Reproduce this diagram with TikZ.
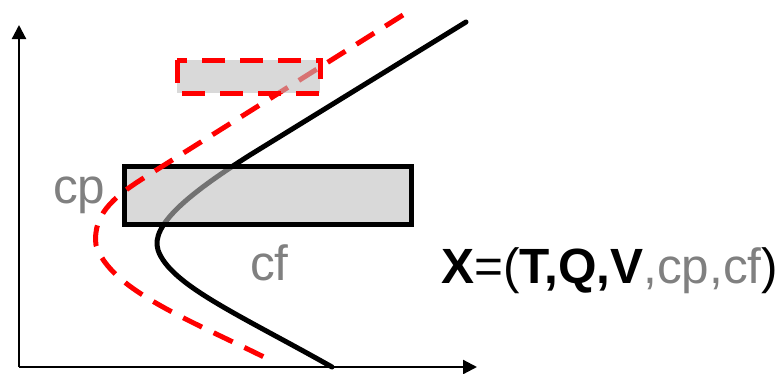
\documentclass[tikz,border=0pt]{standalone}
\usepackage{fontspec}
\setmainfont{Liberation Sans}
\usetikzlibrary{arrows.meta}
\definecolor{lbl}{HTML}{808080}
\begin{document}
\begin{tikzpicture}[x=1pt,y=-1pt,
  axis/.style={line width=2.2pt,-{Triangle[length=14pt,width=14pt]}},
  curveblack/.style={line width=5pt,line cap=round},
  curvered/.style={line width=5pt,red,dash pattern=on 21pt off 13pt},
  shadebox/.style={fill=black!25,fill opacity=0.6,inner sep=0pt,outer sep=0pt},
  txt/.style={inner sep=0pt,font=\fontsize{49.5}{52}\selectfont}]
\useasboundingbox (0,0) rectangle (780,373);
% axes
\coordinate (O) at (19,367);
\coordinate (Ytip) at (19,25);
\coordinate (Xtip) at (477,367);
\draw[axis] (O) -- (Ytip);
\draw[axis] (O) -- (Xtip);
% black curve
\coordinate (b1) at (466,22);
\coordinate (b2) at (250,155);
\coordinate (b3) at (158,250);
\coordinate (b4) at (332,367);
\draw[curveblack] (b1) -- (b2) .. controls (190,193) and (150,225) .. (b3)
  .. controls (170,285) and (240,315) .. (b4);
% black box
\node[shadebox,draw=black,draw opacity=1,line width=5pt,minimum width=287pt,minimum height=58pt] (fbox) at (268,195.5) {};
% red curve
\coordinate (r1) at (403,15);
\coordinate (r2) at (150,174);
\coordinate (r3) at (96,245);
\coordinate (r4) at (270,360);
\draw[curvered] (r1) -- (r2) .. controls (118,194) and (92,212) .. (r3)
  .. controls (110,290) and (190,320) .. (r4);
% red box
\node[shadebox,minimum width=143pt,minimum height=33pt] (pbox) at (248.5,76.5) {};
\draw[line width=5pt,red,dash pattern=on 23pt off 15pt] (pbox.north west) rectangle (pbox.south east);
% labels
\node[txt,text=lbl,anchor=base west] (cp) at (53,203) {cp};
\node[txt,text=lbl,anchor=base west] (cf) at (250,280) {cf};
\node[txt,anchor=base west] (X) at (441,283) {\textbf{X}=(\textbf{T,Q,V}\textcolor{lbl}{,cp,cf})};
\end{tikzpicture}
\end{document}
